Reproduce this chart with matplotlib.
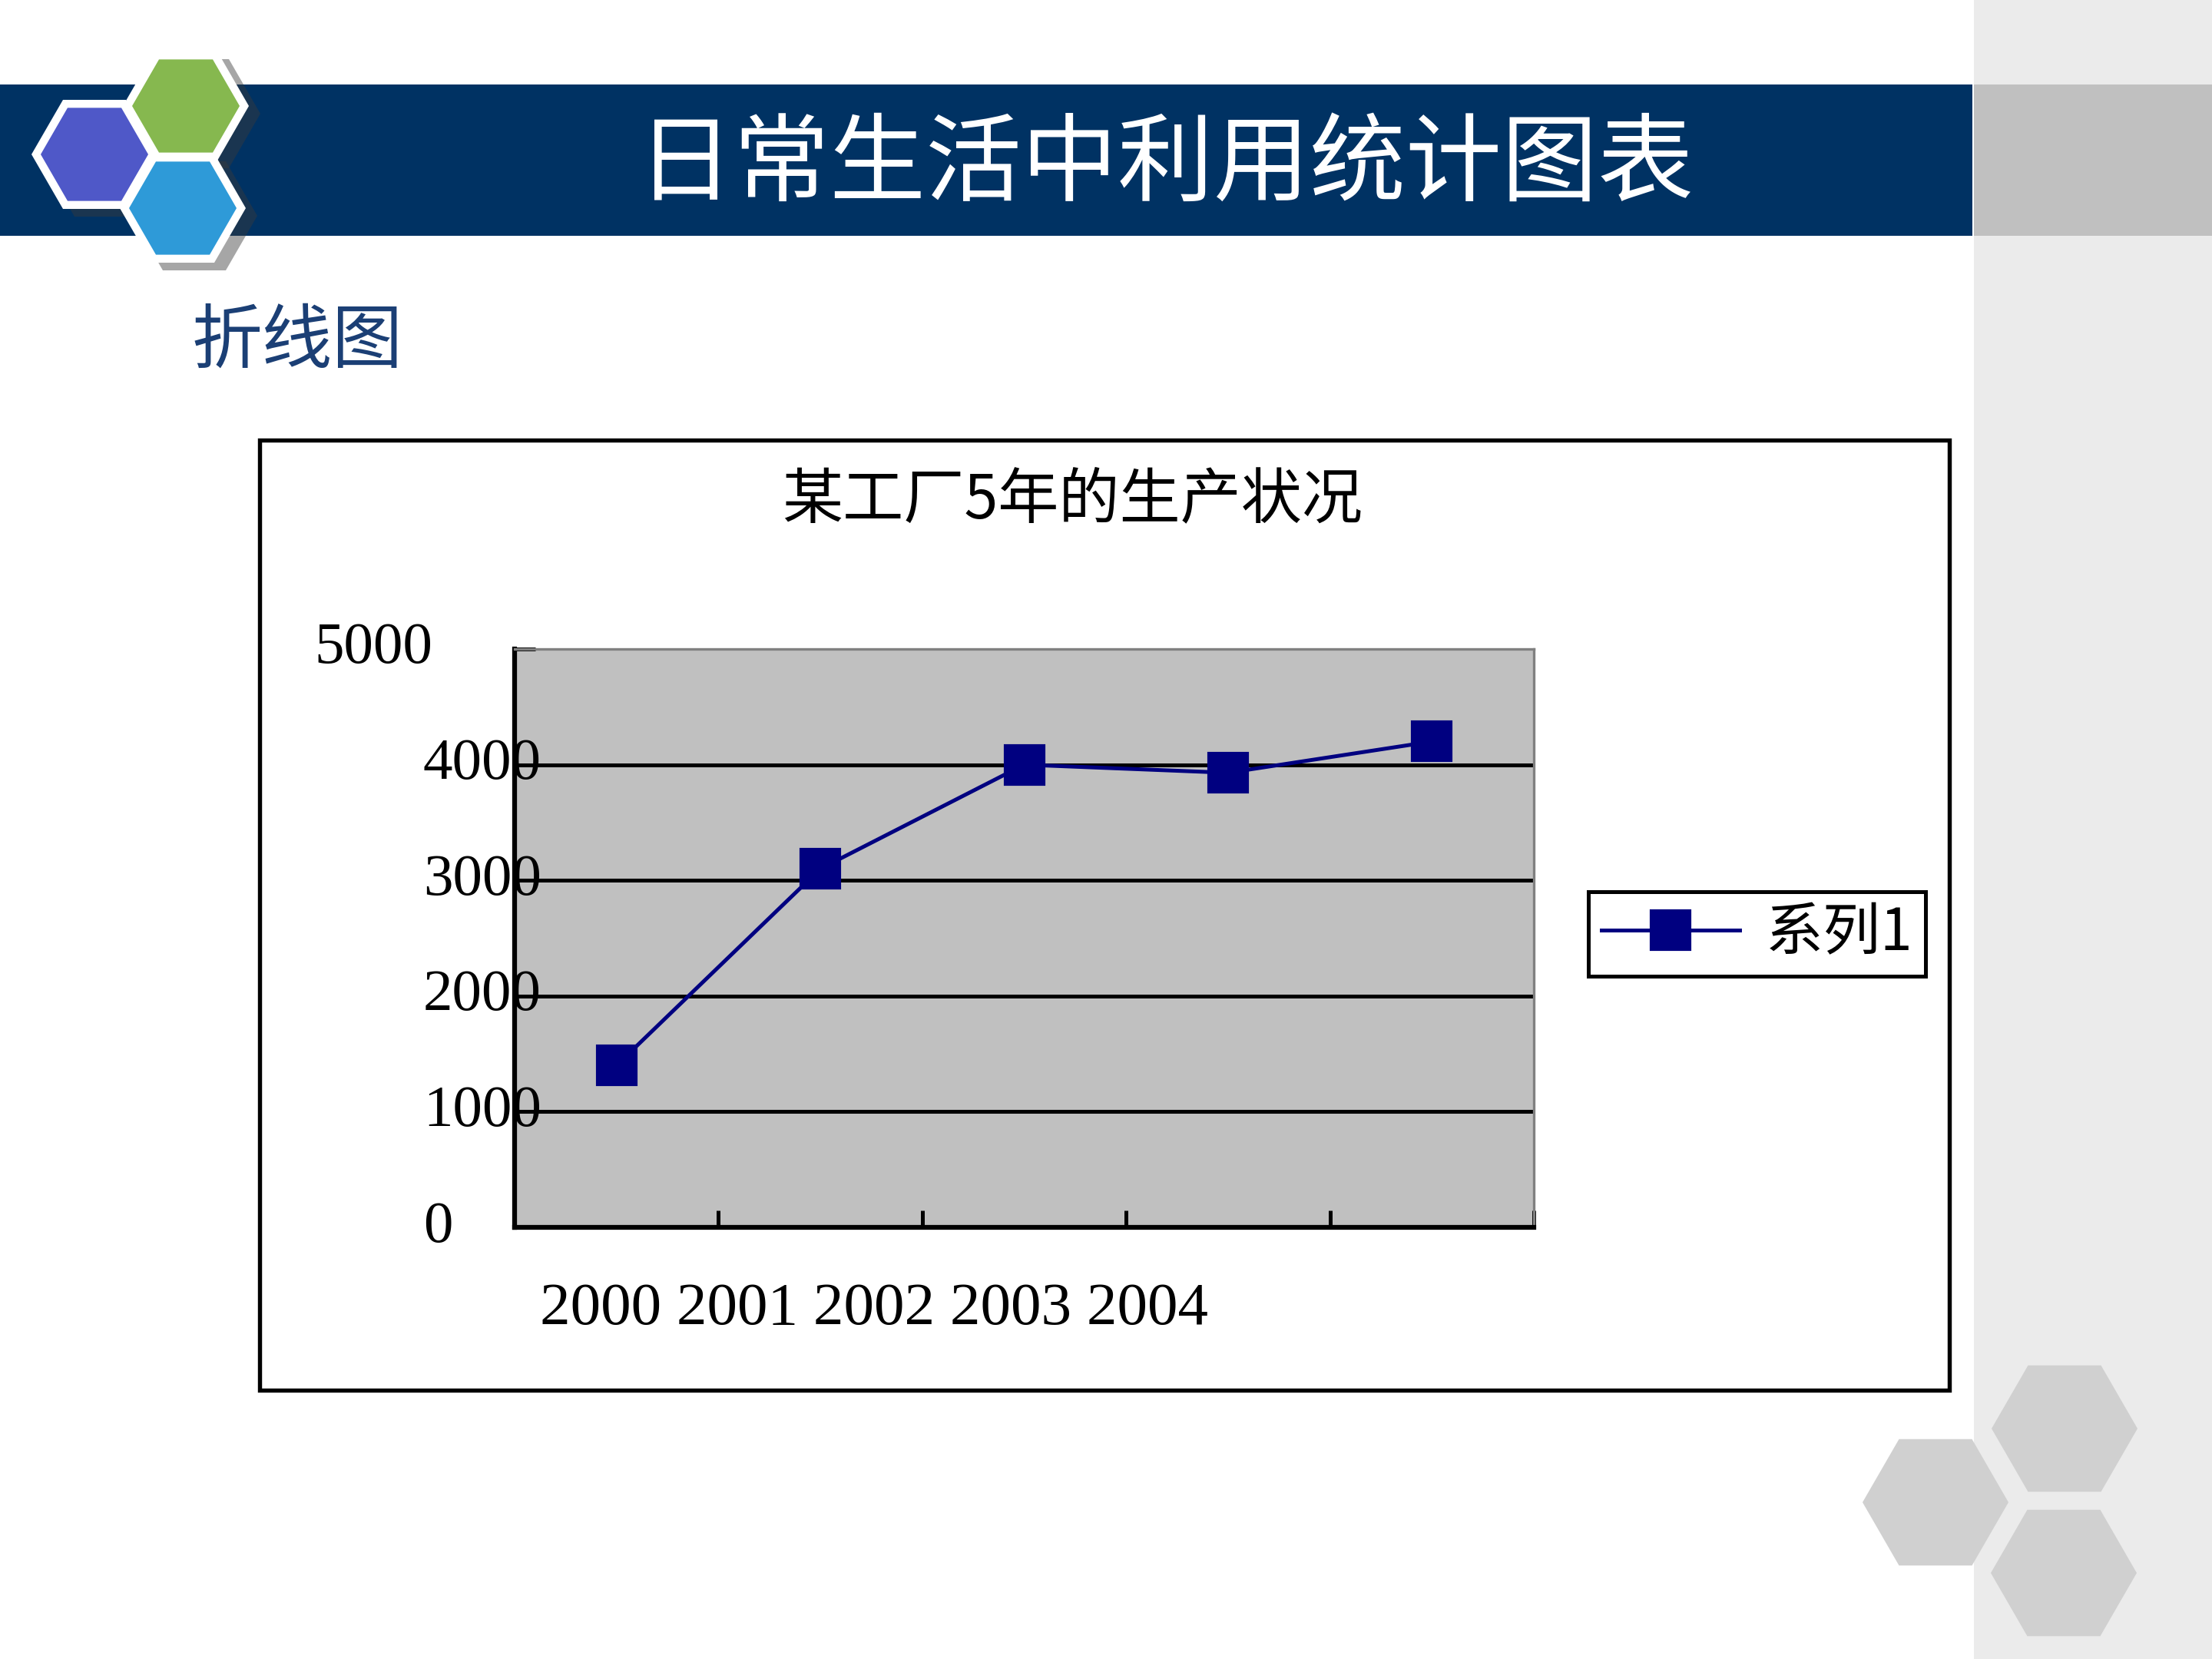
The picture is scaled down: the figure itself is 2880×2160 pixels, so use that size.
import numpy as np
import matplotlib
matplotlib.use("Agg")
import matplotlib.pyplot as plt
from matplotlib.patches import Rectangle, RegularPolygon

plt.rcParams['font.family'] = ['Noto Sans CJK SC', 'DejaVu Sans']

# data
years = ["2000", "2001", "2002", "2003", "2004"]
output = [1400, 3100, 4000, 3930, 4200]
series_name = "系列1"
y_ticks = [0, 1000, 2000, 3000, 4000, 5000]
y_labels = ["0", "1000", "2000", "3000", "4000", "5000"]

slide_title = "日常生活中利用统计图表"
section = "折线图"
chart_title = "某工厂5年的生产状况"

W, H = 2880, 2160
fig = plt.figure(figsize=(9.6, 7.2), dpi=300)
fig.patch.set_facecolor("white")

# background layer in pixel coordinates
bg = fig.add_axes([0, 0, 1, 1], zorder=0)
bg.set_xlim(0, W)
bg.set_ylim(H, 0)
bg.axis("off")

# right gray panel and title bands
bg.add_patch(Rectangle((2570, 0), W - 2570, H, color="#ebebeb", lw=0))
bg.add_patch(Rectangle((2570, 110), W - 2570, 197, color="#c0c0c0", lw=0))
bg.add_patch(Rectangle((0, 110), 2568, 197, color="#003263", lw=0))

# logo hexagons (shadow, white rim, colour)
logo = [((123, 201), "#4f58c8"), ((242, 138), "#86b84f"), ((238, 271), "#2e9ad8")]
for (cx, cy), c in logo:
    bg.add_patch(RegularPolygon((cx + 15, cy + 10), 6, radius=82, orientation=np.pi / 6,
                                color="#3a3a3a", alpha=0.45, lw=0))
for (cx, cy), c in logo:
    bg.add_patch(RegularPolygon((cx, cy), 6, radius=82, orientation=np.pi / 6,
                                color="white", lw=0))
for (cx, cy), c in logo:
    bg.add_patch(RegularPolygon((cx, cy), 6, radius=70, orientation=np.pi / 6,
                                color=c, lw=0))

# gray hexagons bottom right
for cx, cy in [(2688, 1860), (2687, 2048), (2520, 1956)]:
    bg.add_patch(RegularPolygon((cx, cy), 6, radius=95, orientation=np.pi / 6,
                                color="#d0d0d0", lw=0))

bg.text(1518, 216, slide_title, color="white", fontsize=30, ha="center", va="center")
bg.text(250, 446, section, color="#1b3f75", fontsize=22, ha="left", va="center")

# chart frame
bg.add_patch(Rectangle((338, 573), 2200, 1237, fill=False, ec="black", lw=1.3))
bg.text(1396, 652, chart_title, fontsize=19, ha="center", va="center")

# plot area
ax = fig.add_axes([670 / W, 1 - 1598 / H, (1997 - 670) / W, (1598 - 845) / H], zorder=2)
ax.set_facecolor("#c0c0c0")
x = np.arange(len(years))
ax.plot(x, output, color="#000080", lw=1.2, marker="s", markersize=12,
        mfc="#000080", mec="#000080", label=series_name)

ax.set_xlim(-0.5, len(years) - 0.5)
ax.set_ylim(0, 5000)
ax.set_xticks(x + 0.5)
ax.set_xticklabels([])
ax.set_yticks(y_ticks[1:-1])
ax.set_yticks([y_ticks[0], y_ticks[-1]], minor=True)
ax.set_yticklabels([])
ax.yaxis.grid(True, which="major", color="black", lw=1.2)
ax.tick_params(axis="y", which="both", direction="in", length=6.5, width=1.2, color="black")
ax.tick_params(axis="x", direction="in", length=5.3, width=1.2, color="black")

for s in ["left", "bottom"]:
    ax.spines[s].set_color("black")
    ax.spines[s].set_linewidth(1.5)
for s in ["top", "right"]:
    ax.spines[s].set_color("#808080")
    ax.spines[s].set_linewidth(0.8)

ytr = ax.get_yaxis_transform()
for v, lab in zip(y_ticks, y_labels):
    if v == y_ticks[-1]:
        ax.text(-0.080, v, lab, transform=ytr, ha="right", va="center",
                fontsize=18.5, family="Liberation Serif", clip_on=False)
    else:
        ax.text(-0.0897, v, lab, transform=ytr, ha="left", va="center",
                fontsize=18.5, family="Liberation Serif", clip_on=False, zorder=5)

ax.text(0.0249, -0.142, " ".join(years), transform=ax.transAxes, ha="left", va="center",
        fontsize=19, family="Liberation Serif", clip_on=False)

leg = ax.legend(loc="center", bbox_to_anchor=(2287.5 / W, 1 - 1215.5 / H),
                bbox_transform=fig.transFigure, frameon=True, fancybox=False,
                edgecolor="black", framealpha=1, borderpad=0.22, handlelength=2.4,
                handletextpad=0.45, prop={"size": 18})
leg.get_frame().set_linewidth(1.2)

fig.savefig("out.png", dpi=300)
